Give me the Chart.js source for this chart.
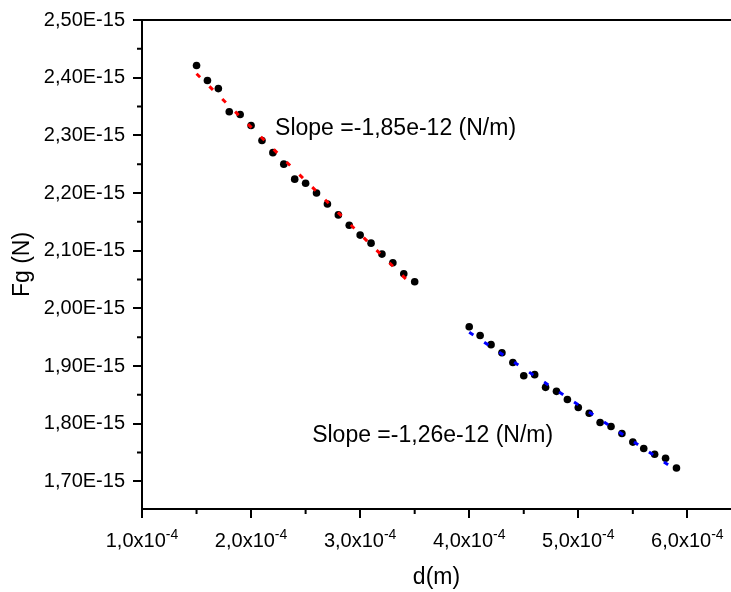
<!DOCTYPE html>
<html>
<head>
<meta charset="utf-8">
<script src="https://cdn.jsdelivr.net/npm/chart.js@4.4.1/dist/chart.umd.min.js"></script>
<style>
  body { margin: 0; background: #fff; }
  #wrap { width: 731px; height: 592px; }
</style>
</head>
<body>
<div id="wrap"><canvas id="myChart"></canvas></div>
<script>
// distances in units of 1e-4 m, forces in units of 1e-15 N
const dA = [1.5, 1.6, 1.7, 1.8, 1.9, 2.0, 2.1, 2.2, 2.3, 2.4, 2.5, 2.6, 2.7, 2.8, 2.9, 3.0, 3.1, 3.2, 3.3, 3.4, 3.5]
const fA = [2.421, 2.395, 2.381, 2.341, 2.336, 2.317, 2.291, 2.270, 2.250, 2.224, 2.217, 2.200, 2.181, 2.162, 2.144, 2.127, 2.113, 2.094, 2.079, 2.060, 2.046]
const dB = [4.0, 4.1, 4.2, 4.3, 4.4, 4.5, 4.6, 4.7, 4.8, 4.9, 5.0, 5.1, 5.2, 5.3, 5.4, 5.5, 5.6, 5.7, 5.8, 5.9]
const fB = [1.968, 1.953, 1.937, 1.923, 1.906, 1.883, 1.885, 1.863, 1.856, 1.842, 1.828, 1.818, 1.802, 1.795, 1.783, 1.768, 1.757, 1.747, 1.740, 1.723]

const xTicks = [1, 2, 3, 4, 5, 6]
const xTickLabels = ["1,0x10", "2,0x10", "3,0x10", "4,0x10", "5,0x10", "6,0x10"]
const xTickExp = "-4"
const xMinor = [1.5, 2.5, 3.5, 4.5, 5.5]
const yTicks = [1.7, 1.8, 1.9, 2.0, 2.1, 2.2, 2.3, 2.4, 2.5]
const yTickLabels = ["1,70E-15", "1,80E-15", "1,90E-15", "2,00E-15", "2,10E-15", "2,20E-15", "2,30E-15", "2,40E-15", "2,50E-15"]
const yMinor = [1.75, 1.85, 1.95, 2.05, 2.15, 2.25, 2.35, 2.45]

const slopeLabels = ["Slope =-1,85e-12 (N/m)", "Slope =-1,26e-12 (N/m)"]
// where the labels sit, in data units (left edge, baseline)
const slopeAt = [[2.22, 2.301], [2.56, 1.769]]

const FONT = '"Liberation Sans", Arial, sans-serif'
const ctx = document.getElementById('myChart').getContext('2d')

function points(xs, ys) {
    return xs.map((v, i) => ({ x: v, y: ys[i] }))
}

// least squares line through a group, from first to last point
function fitLine(xs, ys) {
    let n = xs.length
    let mx = xs.reduce((a, b) => a + b, 0) / n
    let my = ys.reduce((a, b) => a + b, 0) / n
    let sxy = 0, sxx = 0
    for (let i = 0; i < n; i++) {
        sxy += (xs[i] - mx) * (ys[i] - my)
        sxx += (xs[i] - mx) * (xs[i] - mx)
    }
    let k = sxy / sxx
    let b = my - k * mx
    let x0 = xs[0], x1 = xs[n - 1]
    return [{ x: x0, y: k * x0 + b }, { x: x1, y: k * x1 + b }]
}

const extras = {
    id: 'extras',
    afterDraw(chart) {
        const c = chart.ctx
        const area = chart.chartArea
        const x = chart.scales.x
        const y = chart.scales.y
        c.save()
        c.strokeStyle = "#000"
        c.lineWidth = 2
        c.beginPath()
        c.moveTo(area.left - 1, area.top)
        c.lineTo(area.right, area.top)
        xMinor.forEach(v => {
            let px = x.getPixelForValue(v)
            c.moveTo(px, area.bottom)
            c.lineTo(px, area.bottom + 5)
        })
        yMinor.forEach(v => {
            let py = y.getPixelForValue(v)
            c.moveTo(area.left, py)
            c.lineTo(area.left - 5, py)
        })
        c.stroke()

        c.fillStyle = "#000"
        c.textBaseline = "alphabetic"
        // x tick labels with raised exponent
        xTicks.forEach((v, i) => {
            c.font = '20px ' + FONT
            let w1 = c.measureText(xTickLabels[i]).width
            c.font = '14px ' + FONT
            let w2 = c.measureText(xTickExp).width
            let left = x.getPixelForValue(v) - (w1 + w2) / 2
            let base = area.bottom + 38
            c.font = '20px ' + FONT
            c.fillText(xTickLabels[i], left, base)
            c.font = '14px ' + FONT
            c.fillText(xTickExp, left + w1, base - 8)
        })

        c.font = '23px ' + FONT
        slopeLabels.forEach((t, i) => {
            c.fillText(t, x.getPixelForValue(slopeAt[i][0]), y.getPixelForValue(slopeAt[i][1]))
        })
        c.restore()
    }
}

Chart.defaults.font.family = FONT
Chart.defaults.color = "#000"

const myChart = new Chart(ctx, {
    type: 'scatter',
    data: {
        datasets: [
            {
                type: 'line',
                data: fitLine(dA, fA),
                borderColor: "#ff0000",
                borderWidth: 3,
                borderDash: [5, 13],
                pointRadius: 0,
                order: 0
            },
            {
                type: 'line',
                data: fitLine(dB, fB),
                borderColor: "#0000ff",
                borderWidth: 3,
                borderDash: [5, 13],
                pointRadius: 0,
                order: 0
            },
            {
                data: points(dA, fA),
                backgroundColor: "#000",
                borderWidth: 0,
                pointRadius: 3.8,
                order: 1
            },
            {
                data: points(dB, fB),
                backgroundColor: "#000",
                borderWidth: 0,
                pointRadius: 3.8,
                order: 1
            }
        ]
    },
    options: {
        responsive: true,
        maintainAspectRatio: false,
        animation: false,
        layout: { autoPadding: false, padding: { top: 18, right: 0, left: 0, bottom: 0 } },
        plugins: {
            legend: { display: false },
            tooltip: { enabled: false }
        },
        scales: {
            x: {
                type: 'linear',
                min: 1.0,
                max: 6.4,
                afterBuildTicks: s => { s.ticks = xTicks.map(v => ({ value: v })) },
                afterFit: s => { s.height = 83; s.paddingLeft = 0; s.paddingRight = 0 },
                ticks: { display: false },
                grid: {
                    drawOnChartArea: false,
                    drawTicks: true,
                    tickLength: 9,
                    color: "#000",
                    lineWidth: 2
                },
                border: { display: true, color: "#000", width: 2 },
                title: {
                    display: true,
                    text: "d(m)",
                    font: { size: 23 },
                    padding: { top: 0, bottom: 1 }
                }
            },
            y: {
                type: 'linear',
                min: 1.652,
                max: 2.5,
                afterBuildTicks: s => { s.ticks = yTicks.map(v => ({ value: v })) },
                afterFit: s => { s.width = 142 },
                ticks: {
                    callback: (v, i) => yTickLabels[i],
                    font: { size: 20 },
                    padding: 8,
                    autoSkip: false
                },
                grid: {
                    drawOnChartArea: false,
                    drawTicks: true,
                    tickLength: 9,
                    color: "#000",
                    lineWidth: 2
                },
                border: { display: true, color: "#000", width: 2 },
                title: {
                    display: true,
                    text: "Fg (N)",
                    font: { size: 23 },
                    padding: { top: 9, bottom: 0 }
                }
            }
        }
    },
    plugins: [extras]
})
</script>
</body>
</html>
